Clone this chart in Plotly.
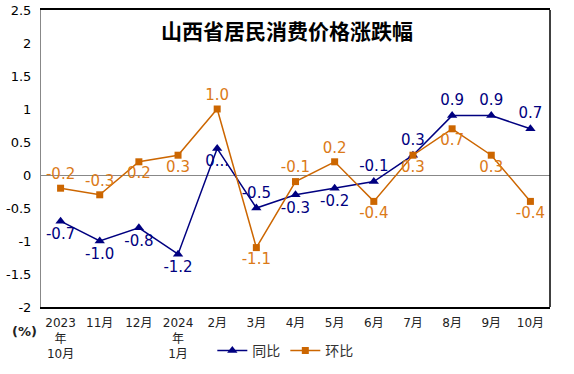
import plotly.graph_objects as go

categories = ["2023<br>年<br>10月", "11月", "12月", "2024<br>年<br>1月", "2月", "3月", "4月",
              "5月", "6月", "7月", "8月", "9月", "10月"]
yoy = [-0.7, -1.0, -0.8, -1.2, 0.4, -0.5, -0.3, -0.2, -0.1, 0.3, 0.9, 0.9, 0.7]
mom = [-0.2, -0.3, 0.2, 0.3, 1.0, -1.1, -0.1, 0.2, -0.4, 0.3, 0.7, 0.3, -0.4]
yoy_labels = ["-0.7", "-1.0", "-0.8", "-1.2", "0...", "-0.5", "-0.3", "-0.2", "-0.1", "0.3", "0.9", "0.9", "0.7"]
mom_labels = ["-0.2", "-0.3", "0.2", "0.3", "1.0", "-1.1", "-0.1", "0.2", "-0.4", "0.3", "0.7", "0.3", "-0.4"]
yoy_pos = ["bottom center"] * 5 + ["top center", "bottom center", "bottom center"] + ["top center"] * 5
mom_pos = ["top center", "top center", "bottom center", "bottom center", "top center", "bottom center",
           "top center", "top center", "bottom center", "bottom center", "bottom center", "bottom center",
           "bottom center"]
y_ticks = [2.5, 2, 1.5, 1, 0.5, 0, -0.5, -1, -1.5, -2]
y_ticktext = ["2.5", "2", "1.5", "1", "0.5", "0", "-0.5", "-1", "-1.5", "-2"]

x = list(range(len(categories)))
FONT = "DejaVu Sans, Noto Sans CJK SC, sans-serif"

fig = go.Figure()
fig.add_trace(go.Scatter(
    x=x, y=yoy, name="同比", mode="lines+markers+text",
    line=dict(color="#000080", width=1.5),
    marker=dict(symbol="triangle-up", size=9, color="#000080"),
    text=yoy_labels, textposition=yoy_pos,
    textfont=dict(color="#000080", size=15, family=FONT),
    cliponaxis=False,
))
fig.add_trace(go.Scatter(
    x=x, y=mom, name="环比", mode="lines+markers+text",
    line=dict(color="#CC6600", width=1.5),
    marker=dict(symbol="square", size=7, color="#CC6600"),
    text=mom_labels, textposition=mom_pos,
    textfont=dict(color="#DB7A18", size=15, family=FONT),
    cliponaxis=False,
))

fig.update_layout(
    width=574, height=374,
    margin=dict(l=41, r=24, t=10, b=67, autoexpand=False),
    paper_bgcolor="white", plot_bgcolor="white",
    font=dict(family=FONT, color="black"),
    showlegend=True,
    legend=dict(orientation="h", x=0.48, xanchor="center", y=-0.148, yanchor="middle",
                font=dict(size=14, color="#333333", family=FONT),
                tracegroupgap=0),
    xaxis=dict(range=[-0.5, 12.5], tickvals=x, ticktext=categories, automargin=False,
               tickfont=dict(size=12, color="#222222"), showgrid=False, zeroline=False,
               showline=True, linecolor="black", linewidth=1.5, mirror=True, ticks="",
               ticklabelstandoff=4),
    yaxis=dict(range=[-2, 2.5], tickvals=y_ticks, ticktext=y_ticktext, automargin=False,
               tickfont=dict(size=13, color="black"), showgrid=False,
               zeroline=True, zerolinecolor="#888888", zerolinewidth=1,
               showline=True, linecolor="#888888", linewidth=1, ticks="",
               ticklabelstandoff=6),
    annotations=[
        dict(text="<b>山西省居民消费价格涨跌幅</b>", x=0.483, y=0.99, xref="paper", yref="paper",
             xanchor="center", yanchor="top", showarrow=False,
             font=dict(size=21, color="black", family="Noto Sans CJK SC, sans-serif")),
        dict(text="<b>(%)</b>", x=-0.033, y=-0.081, xref="paper", yref="paper",
             xanchor="center", yanchor="middle", showarrow=False,
             font=dict(size=13, color="#222222", family=FONT)),
    ],
    shapes=[dict(type="line", xref="paper", yref="paper", x0=1, x1=1, y0=0, y1=1,
                 line=dict(color="black", width=1.5))],
)

fig.write_html("out.html", config={"displayModeBar": False},
               post_script="document.body.style.margin='0';")
